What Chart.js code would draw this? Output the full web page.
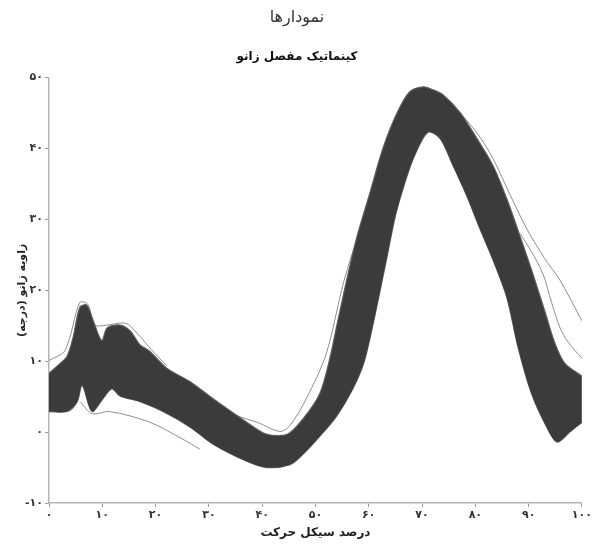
<!DOCTYPE html>
<html lang="fa">
<head>
<meta charset="utf-8">
<script src="https://cdn.jsdelivr.net/npm/chart.js@4.4.1/dist/chart.umd.min.js"></script>
<style>
  html, body { margin: 0; padding: 0; background: #fff; }
</style>
</head>
<body>
<canvas id="chart" width="594" height="544"></canvas>
<script>
// knee angle bundle: upper and lower edge of the dark band
const upperX = [0, 2.1, 3.4, 4.5, 5.8, 7.1, 8.3, 9.9, 10.9, 13.3, 15.2, 17.1, 18.9, 22.1, 26.5, 30.8, 37.1, 40.9, 44.7, 47.7, 50.8, 52.7, 54.0, 55.9, 57.8, 60.2, 62.7, 65.3, 67.7, 70.2, 72.0, 73.9, 77.1, 80.3, 83.3, 85.9, 88.4, 90.8, 93.1, 94.9, 96.8, 100];
const upperY = [8.3, 9.7, 10.7, 13.3, 17.6, 17.9, 15.7, 12.9, 14.7, 15.1, 14.3, 12.3, 11.4, 9.0, 7.1, 4.7, 1.4, -0.3, -0.3, 1.9, 5.4, 10.4, 15.0, 21.6, 27.6, 33.7, 40.1, 45.0, 48.0, 48.7, 48.3, 47.6, 45.1, 41.4, 37.6, 32.9, 27.6, 22.3, 16.9, 12.6, 9.7, 7.9];

const lowerX = [0, 3.4, 5.3, 6.2, 7.7, 8.3, 10.1, 11.8, 13.3, 17.1, 21.4, 26.5, 30.8, 37.1, 40.9, 45.2, 47.7, 50.8, 54.0, 57.0, 59.0, 60.6, 62.0, 63.5, 65.0, 66.7, 68.6, 71.1, 73.4, 75.8, 78.4, 80.9, 83.3, 85.9, 88.0, 90.5, 93.0, 95.3, 97.7, 100];
const lowerY = [2.9, 2.9, 4.3, 6.6, 3.3, 2.9, 4.7, 6.1, 5.1, 4.3, 2.9, 0.7, -1.7, -4.1, -5.0, -4.6, -3.1, -0.6, 2.3, 6.1, 9.6, 14.5, 19.5, 25.0, 30.5, 35.0, 39.0, 42.3, 41.4, 37.6, 33.3, 28.6, 24.3, 19.0, 12.0, 5.5, 1.3, -1.4, 0, 1.4];

// single trials that stick out of the band
const outerTopX = [0, 3.0, 5.8, 7.3, 8.6, 10.9, 13.9, 15.2, 18.9, 22.1];
const outerTopY = [10.1, 11.5, 18.3, 18.0, 15.1, 15.1, 15.4, 15.0, 11.9, 9.3];

const lowLeftX = [5.8, 8.1, 11.4, 18.9, 25.1, 28.3];
const lowLeftY = [4.3, 2.6, 2.9, 1.4, -1.0, -2.4];

const troughX = [33, 35.3, 39, 43.3, 45.2, 48.4, 52.0, 55.3, 58.5];
const troughY = [3.2, 2.3, 1.4, 0.1, 0.9, 4.9, 11.0, 21.2, 29.0];

const rightHighX = [77.1, 80.5, 83.3, 86.5, 89.7, 93.0, 95.9, 100];
const rightHighY = [45.1, 42.0, 38.6, 33.5, 28.6, 24.5, 21.4, 15.7];

const rightMidX = [88.4, 90.5, 92.7, 94.3, 95.9, 97.5, 100];
const rightMidY = [28.0, 25.5, 22.3, 18.3, 14.7, 12.6, 10.4];

const xTickLabels = ['۰', '۱۰', '۲۰', '۳۰', '۴۰', '۵۰', '۶۰', '۷۰', '۸۰', '۹۰', '۱۰۰'];
const yTickLabels = ['-۱۰', '۰', '۱۰', '۲۰', '۳۰', '۴۰', '۵۰'];

const RLM = '\u200F';
const FONT = "'DejaVu Sans', sans-serif";

function pts(xs, ys) {
  return xs.map((x, i) => ({x: x, y: ys[i]}));
}

function trial(xs, ys) {
  return {
    data: pts(xs, ys),
    borderColor: '#8e8e8e',
    borderWidth: 1,
    pointRadius: 0,
    tension: 0.3,
    fill: false
  };
}

const datasets = [
  {
    data: pts(upperX, upperY),
    borderColor: '#5c5c5c',
    borderWidth: 1.2,
    backgroundColor: '#3b3b3b',
    pointRadius: 0,
    tension: 0.3,
    fill: '+1'
  },
  {
    data: pts(lowerX, lowerY),
    borderColor: '#5c5c5c',
    borderWidth: 1.2,
    pointRadius: 0,
    tension: 0.3,
    fill: false
  },
  trial(outerTopX, outerTopY),
  trial(lowLeftX, lowLeftY),
  trial(troughX, troughY),
  trial(rightHighX, rightHighY),
  trial(rightMidX, rightMidY)
];

new Chart(document.getElementById('chart'), {
  type: 'line',
  data: { datasets },
  options: {
    responsive: false,
    animation: false,
    layout: { padding: { left: 12, right: 12, top: 0, bottom: 0 } },
    plugins: {
      legend: { display: false },
      tooltip: { enabled: false },
      title: {
        display: true,
        text: 'نمودارها',
        color: '#333',
        font: { family: FONT, size: 16, weight: 'normal' },
        padding: { top: 8, bottom: 10 }
      },
      subtitle: {
        display: true,
        text: 'کینماتیک مفصل زانو',
        color: '#111',
        font: { family: FONT, size: 12, weight: 'bold' },
        padding: { top: 12, bottom: 14 }
      }
    },
    scales: {
      x: {
        type: 'linear',
        min: 0,
        max: 100,
        afterFit: (scale) => { scale.height = 41; },
        ticks: {
          stepSize: 10,
          color: '#333',
          font: { family: FONT, size: 11, weight: 'bold' },
          padding: 2,
          maxRotation: 0,
          callback: (v) => xTickLabels[Math.round(v / 10)]
        },
        grid: { drawOnChartArea: false, tickLength: 4, color: '#9a9a9a' },
        border: { color: '#b5b5b5', width: 1.5 },
        title: {
          display: true,
          text: 'درصد سیکل حرکت',
          color: '#222',
          font: { family: FONT, size: 12, weight: 'bold' },
          padding: { top: 0 }
        }
      },
      y: {
        min: -10,
        max: 50,
        afterFit: (scale) => { scale.width = 37; },
        ticks: {
          stepSize: 10,
          color: '#333',
          font: { family: FONT, size: 11, weight: 'bold' },
          padding: 2,
          callback: (v) => yTickLabels[Math.round((v + 10) / 10)]
        },
        grid: { drawOnChartArea: false, tickLength: 4, color: '#9a9a9a' },
        border: { color: '#b5b5b5', width: 1.5 },
        title: {
          display: true,
          text: 'زاویه زانو (درجه)' + RLM,
          color: '#222',
          font: { family: FONT, size: 11, weight: 'bold' },
          padding: { bottom: 4 }
        }
      }
    }
  }
});
</script>
</body>
</html>
